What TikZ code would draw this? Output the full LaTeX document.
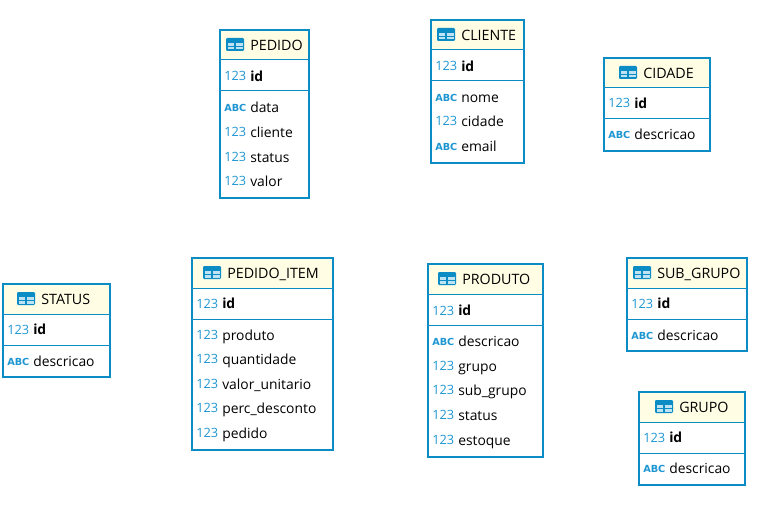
\documentclass[tikz,border=0pt]{standalone}
\usepackage{fontspec}
\setmainfont{Open Sans}
\newfontfamily\abcfont{DejaVu Sans}
\definecolor{frame}{HTML}{0B8CC4}
\definecolor{head}{HTML}{FFFDE3}
\definecolor{ico}{HTML}{1E96D2}
\definecolor{cell}{HTML}{BFE3F2}
\tikzset{
  x=0.75pt,y=-0.75pt,
  tablebox/.style={draw=frame,line width=1.5pt},
  headbox/.style={fill=head},
  hrule/.style={draw=frame,line width=0.75pt},
  celltext/.style={anchor=base west,inner sep=0pt,font=\fontsize{10.4pt}{12pt}\selectfont,text=black},
  titletext/.style={celltext,font=\fontsize{10.7pt}{12pt}\selectfont},
  idtext/.style={celltext,font=\fontsize{10.4pt}{12pt}\selectfont\bfseries},
  numicon/.style={anchor=base west,inner sep=0pt,font=\fontsize{9.6pt}{12pt}\selectfont,text=ico},
  abcicon/.style={anchor=base west,inner sep=0pt,font=\fontsize{7.3pt}{12pt}\abcfont\bfseries,text=ico},
}
\def\abck{abcicon}
% #1 left, #2 top, #3 right, #4 bottom, #5 title x, #6 node name, #7 title, #8 id y, #9 rows y/kind/text
\newcommand{\dbtable}[9]{
  \fill[headbox] (#1,#2) rectangle (#3,#2+30);
  \draw[tablebox] (#1,#2) rectangle (#3,#4);
  \draw[hrule] (#1,#2+30) -- (#3,#2+30);
  \draw[hrule] (#1,#2+61) -- (#3,#2+61);
  \fill[frame,rounded corners=0.8pt] (#5-24,#2+8) rectangle (#5-6,#2+21);
  \fill[cell] (#5-22.5,#2+13) rectangle (#5-15.7,#2+16);
  \fill[cell] (#5-14.3,#2+13) rectangle (#5-7.5,#2+16);
  \fill[cell] (#5-22.5,#2+17) rectangle (#5-15.7,#2+19.5);
  \fill[cell] (#5-14.3,#2+17) rectangle (#5-7.5,#2+19.5);
  \node[titletext] (title#6) at (#5,#2+20.5) {#7};
  \node[numicon] (idicon#6) at (#1+4,#8+5) {123};
  \node[idtext] (id#6) at (#1+30,#8+5.5) {id};
  \foreach \ry/\kind/\txt [count=\rn] in {#9} {
    \node[\kind] (icon#6\rn) at (#1+4,\ry+4.5) {\ifx\kind\abck ABC\else 123\fi};
    \node[celltext] (col#6\rn) at (#1+30,\ry+5.5) {\txt};
  }
}
\begin{document}
\begin{tikzpicture}
\useasboundingbox (0,0) rectangle (758,510);
\dbtable{220}{30}{309}{198}{250}{pedido}{PEDIDO}{76}{107/abcicon/data,132/numicon/cliente,157/numicon/status,181/numicon/valor}
\dbtable{431}{20}{524}{163}{461}{cliente}{CLIENTE}{66}{97/abcicon/nome,121/numicon/cidade,146/abcicon/email}
\dbtable{604}{58}{710}{151}{643}{cidade}{CIDADE}{103}{134/abcicon/descricao}
\dbtable{3}{284}{110}{377}{41}{status}{STATUS}{329}{361/abcicon/descricao}
\dbtable{192}{258}{333}{450}{227}{item}{PEDIDO\_ITEM}{303}{335/numicon/produto,359/numicon/quantidade,384/numicon/valor\_unitario,408/numicon/perc\_desconto,433/numicon/pedido}
\dbtable{428}{264}{543}{457}{462}{produto}{PRODUTO}{310}{341/abcicon/descricao,366/numicon/grupo,390/numicon/sub\_grupo,415/numicon/status,440/numicon/estoque}
\dbtable{627}{258}{747}{351}{657}{subgrupo}{SUB\_GRUPO}{303}{335/abcicon/descricao}
\dbtable{639}{392}{745}{485}{679}{grupo}{GRUPO}{437}{468/abcicon/descricao}
\end{tikzpicture}
\end{document}
